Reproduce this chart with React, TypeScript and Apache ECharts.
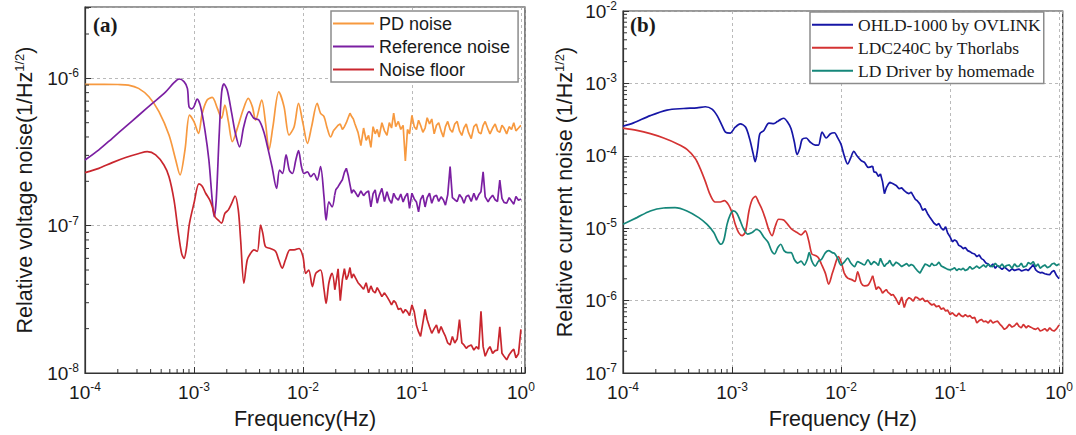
import React, { useEffect, useRef } from 'react';
import * as echarts from 'echarts';

type Pt = [number, number];

// Shared frequency ladder (Hz) used for the dense, noisy high-frequency parts
const noiseFreqs = [
  0.020, 0.021, 0.022, 0.023, 0.024, 0.025, 0.026, 0.027, 0.028, 0.029,
  0.030, 0.032, 0.034, 0.036, 0.038, 0.040, 0.042, 0.044, 0.046, 0.048,
  0.050, 0.053, 0.056, 0.059, 0.062, 0.065, 0.068, 0.071, 0.075, 0.079,
  0.083, 0.087, 0.091, 0.095, 0.10, 0.105, 0.11, 0.115, 0.12, 0.126,
  0.132, 0.138, 0.145, 0.152, 0.16, 0.168, 0.176, 0.185, 0.194, 0.203,
  0.213, 0.224, 0.235, 0.247, 0.26, 0.273, 0.287, 0.3, 0.315, 0.33,
  0.35, 0.37, 0.39, 0.41, 0.43, 0.45, 0.47, 0.5, 0.52, 0.55,
  0.58, 0.61, 0.64, 0.67, 0.7, 0.74, 0.78, 0.82, 0.86, 0.9, 0.95, 1.0,
];

// ---------- Panel (a) ----------
const pdNoiseLow: Pt[] = [
  [1e-4, 9.1e-7], [1.5e-4, 9.1e-7], [2e-4, 9.08e-7], [2.5e-4, 9.0e-7], [3.1e-4, 8.55e-7],
  [3.86e-4, 7.5e-7], [4.77e-4, 5.94e-7], [5.9e-4, 4.12e-7], [6.8e-4, 2.79e-7], [7.45e-4, 2.21e-7],
  [8.27e-4, 3.27e-7], [9.1e-4, 5.64e-7], [1.0e-3, 5.08e-7], [1.1e-3, 4.23e-7], [1.19e-3, 5.78e-7],
  [1.32e-3, 7.13e-7], [1.47e-3, 7.43e-7], [1.64e-3, 6.25e-7], [1.79e-3, 5.36e-7], [1.92e-3, 6.59e-7],
  [2.07e-3, 5.08e-7], [2.25e-3, 3.72e-7], [2.5e-3, 4.58e-7], [2.82e-3, 6.1e-7], [3.15e-3, 7.31e-7],
  [3.43e-3, 6.43e-7], [3.68e-3, 5.21e-7], [4.18e-3, 7.13e-7], [4.54e-3, 4.95e-7], [4.88e-3, 3.27e-7],
  [5.3e-3, 4.7e-7], [6.0e-3, 8.1e-7], [6.7e-3, 6.43e-7], [7.45e-3, 4.12e-7], [8.3e-3, 4.7e-7],
  [9.1e-3, 6.76e-7], [1.0e-2, 4.95e-7], [1.1e-2, 3.62e-7], [1.2e-2, 4.7e-7], [1.35e-2, 6.76e-7],
  [1.45e-2, 5.79e-7], [1.56e-2, 5.5e-7], [1.67e-2, 4.58e-7], [1.79e-2, 4.0e-7], [1.9e-2, 4.4e-7],
];
const pdNoiseHigh = [
  4.6e-7, 4.8e-7, 4.9e-7, 4.5e-7, 4.7e-7, 5.0e-7, 5.4e-7, 5.8e-7, 5.5e-7, 5.3e-7,
  4.9e-7, 4.3e-7, 3.5e-7, 4.6e-7, 3.8e-7, 4.1e-7, 3.4e-7, 4.7e-7, 4.2e-7, 4.5e-7,
  4.0e-7, 5.0e-7, 4.4e-7, 4.1e-7, 5.0e-7, 4.6e-7, 5.8e-7, 4.7e-7, 5.1e-7, 4.5e-7,
  4.8e-7, 2.75e-7, 4.5e-7, 4.2e-7, 5.6e-7, 4.7e-7, 4.5e-7, 5.2e-7, 4.8e-7, 4.3e-7,
  4.6e-7, 5.4e-7, 4.9e-7, 5.3e-7, 4.2e-7, 4.8e-7, 5.0e-7, 4.4e-7, 4.0e-7, 4.7e-7,
  5.1e-7, 4.5e-7, 4.3e-7, 4.9e-7, 5.1e-7, 4.4e-7, 4.1e-7, 4.6e-7, 4.9e-7, 4.3e-7,
  3.9e-7, 4.7e-7, 4.9e-7, 4.3e-7, 4.2e-7, 4.8e-7, 5.1e-7, 4.5e-7, 4.2e-7, 4.6e-7,
  4.9e-7, 4.4e-7, 4.3e-7, 4.8e-7, 4.6e-7, 4.2e-7, 4.7e-7, 4.5e-7, 5.0e-7, 4.4e-7, 4.6e-7, 4.8e-7,
];

const refNoiseLow: Pt[] = [
  [1e-4, 2.79e-7], [1.34e-4, 3.27e-7], [1.78e-4, 3.92e-7], [2.36e-4, 4.7e-7], [3.13e-4, 5.64e-7],
  [4.15e-4, 6.76e-7], [5.5e-4, 8.1e-7], [6.56e-4, 9.35e-7], [7.3e-4, 9.9e-7], [8.1e-4, 9.5e-7],
  [8.7e-4, 8.55e-7], [9.0e-4, 6.43e-7], [9.5e-4, 6.2e-7], [1.0e-3, 6.43e-7], [1.07e-3, 7.24e-7],
  [1.15e-3, 6.43e-7], [1.26e-3, 4.46e-7], [1.37e-3, 2.79e-7], [1.47e-3, 1.49e-7], [1.53e-3, 1.15e-7],
  [1.6e-3, 1.49e-7], [1.7e-3, 4.02e-7], [1.79e-3, 7.91e-7], [1.88e-3, 9.16e-7], [2.02e-3, 8.3e-7],
  [2.22e-3, 5.78e-7], [2.4e-3, 4.23e-7], [2.62e-3, 3.43e-7], [2.86e-3, 4.7e-7], [3.2e-3, 5.94e-7],
  [3.55e-3, 5.36e-7], [3.94e-3, 5.21e-7], [4.37e-3, 4.34e-7], [4.8e-3, 3.27e-7], [5.2e-3, 2.51e-7],
  [5.73e-3, 1.79e-7], [6.1e-3, 2.38e-7], [6.5e-3, 2.26e-7], [7.0e-3, 3.02e-7], [7.5e-3, 2.38e-7],
  [8.0e-3, 2.26e-7], [8.6e-3, 2.79e-7], [9.1e-3, 3.23e-7], [9.7e-3, 2.51e-7], [1.02e-2, 2.26e-7],
  [1.1e-2, 2.32e-7], [1.18e-2, 2.15e-7], [1.26e-2, 2.26e-7], [1.35e-2, 2.04e-7], [1.45e-2, 2.52e-7],
  [1.56e-2, 1.57e-7], [1.63e-2, 1.09e-7], [1.73e-2, 1.45e-7], [1.85e-2, 1.34e-7], [1.95e-2, 1.6e-7],
];
const refNoiseHigh = [
  1.75e-7, 1.84e-7, 1.95e-7, 2.05e-7, 2.3e-7, 2.45e-7, 2.2e-7, 1.9e-7, 1.66e-7, 1.75e-7,
  1.7e-7, 1.57e-7, 1.72e-7, 1.6e-7, 1.68e-7, 1.72e-7, 1.34e-7, 1.65e-7, 1.75e-7, 1.42e-7,
  1.6e-7, 1.79e-7, 1.46e-7, 1.7e-7, 1.5e-7, 1.42e-7, 1.66e-7, 1.55e-7, 1.49e-7, 1.64e-7,
  1.45e-7, 1.58e-7, 1.66e-7, 1.31e-7, 1.66e-7, 1.52e-7, 1.45e-7, 1.24e-7, 1.5e-7, 1.61e-7,
  1.34e-7, 1.55e-7, 1.66e-7, 1.42e-7, 1.58e-7, 1.61e-7, 1.46e-7, 1.57e-7, 1.5e-7, 1.38e-7,
  1.62e-7, 2.52e-7, 1.55e-7, 1.5e-7, 1.46e-7, 1.63e-7, 1.55e-7, 1.42e-7, 1.58e-7, 1.61e-7,
  1.46e-7, 1.66e-7, 1.49e-7, 1.62e-7, 1.7e-7, 2.32e-7, 1.57e-7, 1.45e-7, 1.53e-7, 1.61e-7,
  1.5e-7, 1.46e-7, 2.04e-7, 1.53e-7, 1.44e-7, 1.42e-7, 1.55e-7, 1.47e-7, 1.4e-7, 1.58e-7, 1.49e-7, 1.52e-7,
];

const floorLow: Pt[] = [
  [1e-4, 2.29e-7], [1.34e-4, 2.45e-7], [1.78e-4, 2.68e-7], [2.36e-4, 2.9e-7], [3.13e-4, 3.09e-7],
  [3.73e-4, 3.18e-7], [4.45e-4, 3.02e-7], [5.3e-4, 2.58e-7], [5.9e-4, 2.15e-7], [6.56e-4, 1.49e-7],
  [7.2e-4, 8.87e-8], [7.7e-4, 6.49e-8], [8.1e-4, 6.0e-8], [8.5e-4, 6.9e-8], [9.1e-4, 1.04e-7],
  [1.0e-3, 1.42e-7], [1.11e-3, 1.92e-7], [1.19e-3, 1.85e-7], [1.28e-3, 1.66e-7], [1.39e-3, 1.5e-7],
  [1.47e-3, 1.35e-7], [1.56e-3, 1.15e-7], [1.67e-3, 1.09e-7], [1.79e-3, 1.04e-7], [1.92e-3, 1.21e-7],
  [2.07e-3, 1.28e-7], [2.22e-3, 1.42e-7], [2.38e-3, 1.59e-7], [2.55e-3, 1.28e-7], [2.68e-3, 8.0e-8],
  [2.87e-3, 4.07e-8], [3.08e-3, 5.85e-8], [3.31e-3, 6.5e-8], [3.55e-3, 6.85e-8], [3.81e-3, 6.7e-8],
  [4.09e-3, 1.01e-7], [4.29e-3, 8.8e-8], [4.53e-3, 7.2e-8], [5.03e-3, 7.0e-8], [5.6e-3, 6.7e-8],
  [6.0e-3, 5.85e-8], [6.45e-3, 5.15e-8], [6.9e-3, 5.85e-8], [7.6e-3, 6.85e-8], [8.3e-3, 6.85e-8],
  [9.2e-3, 7.0e-8], [1.0e-2, 6.17e-8], [1.06e-2, 4.74e-8], [1.13e-2, 5.0e-8], [1.22e-2, 3.86e-8],
  [1.31e-2, 4.74e-8], [1.45e-2, 5.0e-8], [1.56e-2, 3.7e-8], [1.63e-2, 2.97e-8], [1.73e-2, 4.1e-8],
  [1.85e-2, 4.74e-8], [1.96e-2, 3.68e-8],
];
const floorHigh = [
  4.0e-8, 5.1e-8, 3.1e-8, 4.3e-8, 5.1e-8, 4.3e-8, 4.6e-8, 5.2e-8, 4.4e-8, 4.7e-8,
  4.5e-8, 4.1e-8, 3.9e-8, 3.7e-8, 4.1e-8, 3.5e-8, 3.9e-8, 3.6e-8, 3.5e-8, 3.8e-8,
  3.6e-8, 3.3e-8, 3.5e-8, 3.3e-8, 3.1e-8, 2.9e-8, 3.1e-8, 3.0e-8, 2.7e-8, 2.75e-8,
  2.55e-8, 2.7e-8, 2.6e-8, 2.45e-8, 2.9e-8, 2.6e-8, 2.1e-8, 1.9e-8, 1.77e-8, 2.2e-8,
  2.7e-8, 2.3e-8, 2.05e-8, 1.86e-8, 2.0e-8, 2.12e-8, 1.86e-8, 2.07e-8, 1.9e-8, 1.77e-8,
  1.6e-8, 1.55e-8, 1.77e-8, 1.6e-8, 1.7e-8, 2.3e-8, 1.6e-8, 1.55e-8, 1.47e-8, 1.52e-8,
  1.55e-8, 1.43e-8, 1.51e-8, 1.45e-8, 2.62e-8, 1.51e-8, 1.3e-8, 1.45e-8, 1.51e-8, 1.36e-8,
  1.42e-8, 1.43e-8, 2.06e-8, 1.36e-8, 1.3e-8, 1.23e-8, 1.33e-8, 1.4e-8, 1.45e-8, 1.27e-8, 1.35e-8, 1.98e-8,
];

// ---------- Panel (b) ----------
const ohldLow: Pt[] = [
  [1e-4, 2.56e-4], [1.25e-4, 2.85e-4], [1.78e-4, 3.59e-4], [2.53e-4, 4.28e-4], [3.6e-4, 4.5e-4],
  [4.77e-4, 4.6e-4], [5.7e-4, 4.76e-4], [6.55e-4, 4.42e-4], [7.3e-4, 3.59e-4], [8.1e-4, 2.62e-4],
  [8.7e-4, 2.13e-4], [9.6e-4, 2.06e-4], [1.07e-3, 2.48e-4], [1.19e-3, 2.76e-4], [1.33e-3, 2.5e-4],
  [1.45e-3, 1.72e-4], [1.56e-3, 1.08e-4], [1.63e-3, 8.3e-5], [1.72e-3, 1.26e-4], [1.8e-3, 2.02e-4],
  [1.96e-3, 2.24e-4], [2.18e-3, 2.82e-4], [2.42e-3, 2.78e-4], [2.6e-3, 2.97e-4], [2.78e-3, 3.16e-4],
  [2.98e-3, 3.3e-4], [3.24e-3, 2.9e-4], [3.48e-3, 2.36e-4], [3.73e-3, 1.55e-4], [3.95e-3, 1.04e-4],
  [4.18e-3, 1.26e-4], [4.4e-3, 1.69e-4], [4.8e-3, 1.76e-4], [5.2e-3, 1.55e-4], [5.8e-3, 1.4e-4],
  [6.2e-3, 1.4e-4], [6.7e-3, 2.13e-4], [7.3e-3, 1.76e-4], [8.0e-3, 2.02e-4], [8.7e-3, 2.08e-4],
  [9.3e-3, 1.78e-4], [1.0e-2, 1.44e-4], [1.07e-2, 1.0e-4], [1.15e-2, 7.7e-5], [1.22e-2, 9.2e-5],
  [1.31e-2, 1.15e-4], [1.4e-2, 1.0e-4], [1.53e-2, 8.6e-5], [1.64e-2, 8.1e-5], [1.78e-2, 6.9e-5],
  [1.95e-2, 7.2e-5],
];
const ohldHigh = [
  6.0e-5, 5.9e-5, 5.2e-5, 5.6e-5, 4.4e-5, 3.0e-5, 3.6e-5, 4.0e-5, 4.3e-5, 4.2e-5,
  4.1e-5, 3.9e-5, 3.5e-5, 3.6e-5, 3.3e-5, 3.1e-5, 3.0e-5, 3.15e-5, 2.8e-5, 2.5e-5,
  2.4e-5, 2.15e-5, 1.77e-5, 1.86e-5, 1.6e-5, 1.43e-5, 1.3e-5, 1.18e-5, 1.1e-5, 1.16e-5,
  1.0e-5, 9.4e-6, 1.05e-5, 8.6e-6, 7.6e-6, 6.5e-6, 6.9e-6, 6.6e-6, 5.8e-6, 5.6e-6,
  5.2e-6, 5.4e-6, 4.9e-6, 4.75e-6, 4.5e-6, 4.4e-6, 4.05e-6, 4.26e-6, 3.8e-6, 3.65e-6,
  3.3e-6, 3.2e-6, 2.95e-6, 3.2e-6, 2.8e-6, 3.05e-6, 2.85e-6, 2.7e-6, 2.9e-6, 2.75e-6,
  2.56e-6, 2.75e-6, 2.6e-6, 2.68e-6, 2.72e-6, 2.58e-6, 2.62e-6, 2.7e-6, 2.6e-6, 2.85e-6,
  3.15e-6, 2.65e-6, 2.5e-6, 2.42e-6, 2.45e-6, 2.35e-6, 2.3e-6, 2.28e-6, 2.5e-6, 2.6e-6, 2.2e-6, 2.0e-6,
];

const ldcLow: Pt[] = [
  [1e-4, 2.41e-4], [1.34e-4, 2.24e-4], [1.78e-4, 2.02e-4], [2.36e-4, 1.76e-4], [3.13e-4, 1.47e-4],
  [3.86e-4, 1.23e-4], [4.6e-4, 9.2e-5], [5.1e-4, 6.7e-5], [5.7e-4, 4.4e-5], [6.3e-4, 2.9e-5],
  [7.0e-4, 2.3e-5], [7.8e-4, 2.3e-5], [8.5e-4, 2.4e-5], [9.3e-4, 2.1e-5], [1.0e-3, 1.64e-5],
  [1.07e-3, 1.13e-5], [1.15e-3, 8.7e-6], [1.24e-3, 7.9e-6], [1.33e-3, 9.0e-6], [1.43e-3, 1.73e-5],
  [1.53e-3, 2.47e-5], [1.64e-3, 2.76e-5], [1.76e-3, 2.25e-5], [1.89e-3, 1.8e-5], [2.03e-3, 1.33e-5],
  [2.17e-3, 9.6e-6], [2.33e-3, 7.9e-6], [2.5e-3, 1.08e-5], [2.68e-3, 1.33e-5], [2.98e-3, 1.3e-5],
  [3.24e-3, 1.13e-5], [3.55e-3, 9.6e-6], [3.95e-3, 8.7e-6], [4.3e-3, 8.1e-6], [4.7e-3, 9.2e-6],
  [5.05e-3, 6.7e-6], [5.4e-3, 4.4e-6], [5.8e-3, 4.2e-6], [6.2e-3, 3.9e-6], [6.6e-3, 3.2e-6],
  [7.2e-3, 2.36e-6], [7.7e-3, 1.69e-6], [8.3e-3, 2.36e-6], [8.7e-3, 2.94e-6], [9.45e-3, 4.05e-6],
  [1.01e-2, 3.3e-6], [1.07e-2, 2.4e-6], [1.15e-2, 2.04e-6], [1.25e-2, 1.95e-6], [1.34e-2, 1.84e-6],
  [1.42e-2, 2.5e-6], [1.53e-2, 1.75e-6], [1.64e-2, 1.6e-6], [1.78e-2, 1.65e-6], [1.95e-2, 2.2e-6],
];
const ldcHigh = [
  1.9e-6, 1.42e-6, 1.55e-6, 1.45e-6, 1.27e-6, 1.35e-6, 1.42e-6, 1.3e-6, 1.25e-6, 1.18e-6,
  1.22e-6, 1.05e-6, 0.88e-6, 1.12e-6, 0.8e-6, 1.02e-6, 1.1e-6, 1.05e-6, 0.98e-6, 1.12e-6,
  1.1e-6, 1.02e-6, 1.08e-6, 0.97e-6, 1.0e-6, 0.92e-6, 0.87e-6, 0.9e-6, 0.82e-6, 0.85e-6,
  0.76e-6, 0.79e-6, 0.72e-6, 0.74e-6, 0.64e-6, 0.68e-6, 0.63e-6, 0.61e-6, 0.67e-6, 0.62e-6,
  0.6e-6, 0.64e-6, 0.6e-6, 0.62e-6, 0.57e-6, 0.59e-6, 0.49e-6, 0.53e-6, 0.55e-6, 0.51e-6,
  0.52e-6, 0.49e-6, 0.54e-6, 0.49e-6, 0.51e-6, 0.52e-6, 0.47e-6, 0.44e-6, 0.4e-6, 0.42e-6,
  0.47e-6, 0.43e-6, 0.45e-6, 0.49e-6, 0.44e-6, 0.42e-6, 0.47e-6, 0.42e-6, 0.45e-6, 0.43e-6,
  0.41e-6, 0.4e-6, 0.42e-6, 0.38e-6, 0.39e-6, 0.41e-6, 0.38e-6, 0.42e-6, 0.39e-6, 0.38e-6, 0.41e-6, 0.46e-6,
];

const ldDriverLow: Pt[] = [
  [1e-4, 1.13e-5], [1.34e-4, 1.4e-5], [1.78e-4, 1.73e-5], [2.36e-4, 1.9e-5], [3.0e-4, 1.92e-5],
  [3.86e-4, 1.73e-5], [4.95e-4, 1.4e-5], [5.9e-4, 1.13e-5], [6.8e-4, 8.7e-6], [7.4e-4, 6.7e-6],
  [7.9e-4, 6.0e-6], [8.4e-4, 6.8e-6], [9.0e-4, 1.13e-5], [9.6e-4, 1.52e-5], [1.03e-3, 1.73e-5],
  [1.11e-3, 1.6e-5], [1.19e-3, 1.26e-5], [1.28e-3, 9.7e-6], [1.39e-3, 8.3e-6], [1.53e-3, 8.7e-6],
  [1.67e-3, 9.6e-6], [1.8e-3, 9.1e-6], [1.96e-3, 7.5e-6], [2.14e-3, 6.4e-6], [2.3e-3, 4.9e-6],
  [2.45e-3, 4.4e-6], [2.63e-3, 5.4e-6], [2.8e-3, 6.0e-6], [3.0e-3, 4.9e-6], [3.24e-3, 4.6e-6],
  [3.48e-3, 4.6e-6], [3.73e-3, 3.7e-6], [4.0e-3, 3.3e-6], [4.3e-3, 3.5e-6], [4.6e-3, 3.1e-6],
  [4.9e-3, 3.7e-6], [5.1e-3, 4.6e-6], [5.4e-3, 3.5e-6], [5.8e-3, 3.0e-6], [6.2e-3, 3.5e-6],
  [6.6e-3, 3.7e-6], [7.2e-3, 4.6e-6], [7.7e-3, 4.9e-6], [8.3e-3, 4.6e-6], [8.7e-3, 4.5e-6],
  [9.3e-3, 3.85e-6], [1.0e-2, 3.1e-6], [1.07e-2, 3.4e-6], [1.15e-2, 3.85e-6], [1.23e-2, 3.3e-6],
  [1.33e-2, 2.95e-6], [1.42e-2, 3.46e-6], [1.53e-2, 3.28e-6], [1.64e-2, 3.11e-6], [1.76e-2, 3.65e-6],
  [1.88e-2, 3.11e-6],
];
const ldDriverHigh = [
  3.46e-6, 3.3e-6, 3.05e-6, 3.84e-6, 3.3e-6, 2.95e-6, 3.2e-6, 3.3e-6, 3.6e-6, 3.2e-6,
  3.0e-6, 3.4e-6, 3.2e-6, 2.95e-6, 3.1e-6, 3.25e-6, 3.0e-6, 3.15e-6, 3.05e-6, 2.8e-6,
  2.6e-6, 2.4e-6, 2.8e-6, 3.2e-6, 3.1e-6, 2.95e-6, 3.28e-6, 3.05e-6, 3.1e-6, 3.4e-6,
  3.0e-6, 2.9e-6, 2.8e-6, 2.7e-6, 2.66e-6, 2.72e-6, 2.85e-6, 2.6e-6, 2.75e-6, 2.66e-6,
  2.8e-6, 2.6e-6, 2.7e-6, 2.95e-6, 2.72e-6, 2.85e-6, 3.0e-6, 2.8e-6, 2.95e-6, 3.11e-6,
  2.89e-6, 3.2e-6, 3.0e-6, 2.95e-6, 3.28e-6, 3.0e-6, 2.95e-6, 3.21e-6, 2.89e-6, 3.05e-6,
  3.11e-6, 2.8e-6, 3.21e-6, 2.95e-6, 3.0e-6, 3.28e-6, 2.9e-6, 3.0e-6, 3.35e-6, 3.2e-6,
  3.46e-6, 2.95e-6, 3.21e-6, 2.8e-6, 2.95e-6, 3.11e-6, 2.85e-6, 2.95e-6, 3.2e-6, 3.28e-6, 3.05e-6, 3.21e-6,
];

// Axis ranges and tick structure
const xDecades = [-4, -3, -2, -1];
const leftYDecades = [-8, -7, -6];
const rightYDecades = [-7, -6, -5, -4, -3];
const minorMultipliers = [2, 3, 4, 5, 6, 7, 8, 9];
const xMin = 1e-4;
const leftXMax = 1.09;
const rightXMax = 1.08;
const leftYMin = 1e-8;
const leftYMax = 3.05e-6;
const rightYMin = 1e-7;
const rightYMax = 1e-2;

const legendA = ['PD noise', 'Reference noise', 'Noise floor'];
const legendB = ['OHLD-1000 by OVLINK', 'LDC240C by Thorlabs', 'LD Driver by homemade'];
const colorsA = ['#F7993F', '#7B1FA2', '#C9262E'];
const colorsB = ['#1616A6', '#D43333', '#15877A'];

const SANS = 'Liberation Sans';
const SERIF = 'Liberation Serif';
const INK = '#1a1a1a';

function zipHigh(vals: number[]): Pt[] {
  return vals.map((v, i) => [noiseFreqs[i], v] as Pt);
}

function minorValues(decades: number[], maxV: number): number[] {
  const out: number[] = [];
  decades.forEach((d) => minorMultipliers.forEach((m) => {
    const v = m * Math.pow(10, d);
    if (v < maxV) out.push(v);
  }));
  return out;
}

function supLabel(v: number): string {
  const e = Math.log10(v);
  const r = Math.round(e);
  if (Math.abs(e - r) > 1e-6) return '';
  return '10{sup|' + r + '}';
}

const tickLabel = {
  formatter: supLabel,
  fontFamily: SANS,
  fontSize: 19,
  color: INK,
  lineHeight: 22,
  rich: {
    sup: { fontFamily: SANS, fontSize: 12, lineHeight: 12, verticalAlign: 'top', color: INK },
  },
};

function makeX(gridIndex: number, max: number, name: string) {
  return {
    type: 'log', logBase: 10, gridIndex, min: xMin, max,
    name, nameLocation: 'middle', nameGap: 29,
    nameTextStyle: { fontFamily: SANS, fontSize: 21.5, color: INK },
    axisLine: { show: true, onZero: false, lineStyle: { color: '#333', width: 1.2 } },
    axisTick: { show: true, inside: true, length: 6, lineStyle: { color: '#333', width: 1 } },
    axisLabel: { ...tickLabel, margin: 8 },
    splitLine: { show: true, lineStyle: { color: '#a8a8a8', width: 0.8, type: [3, 3] } },
  };
}

function makeY(gridIndex: number, min: number, max: number, name: string, gap: number) {
  return {
    type: 'log', logBase: 10, gridIndex, min, max,
    name, nameLocation: 'middle', nameGap: gap,
    nameTextStyle: {
      fontFamily: SANS, fontSize: 21.5, color: INK, lineHeight: 24,
      rich: { sup: { fontFamily: SANS, fontSize: 13, lineHeight: 13, verticalAlign: 'top', color: INK } },
    },
    axisLine: { show: true, onZero: false, lineStyle: { color: '#333', width: 1.2 } },
    axisTick: { show: true, inside: true, length: 6, lineStyle: { color: '#333', width: 1 } },
    axisLabel: { ...tickLabel, margin: 6 },
    splitLine: { show: true, lineStyle: { color: '#a8a8a8', width: 0.8, type: [3, 3] } },
  };
}

function lineSeries(name: string, color: string, data: Pt[], gi: number, smooth: number | boolean) {
  return {
    type: 'line', name, xAxisIndex: gi, yAxisIndex: gi, data,
    showSymbol: false, symbol: 'none', smooth, silent: true,
    lineStyle: { color, width: 1.7 }, itemStyle: { color },
  };
}

function curve(name: string, color: string, low: Pt[], high: number[], gi: number) {
  const highPts: Pt[] = [low[low.length - 1], ...zipHigh(high)];
  return [lineSeries(name, color, low, gi, 0.3), lineSeries(name, color, highPts, gi, false)];
}

function minorTickSeries(gi: number, data: Pt[], dir: 'x' | 'y') {
  return {
    type: 'custom', xAxisIndex: gi, yAxisIndex: gi, silent: true, z: 6,
    data,
    renderItem: (_p: any, api: any) => {
      const p = api.coord([api.value(0), api.value(1)]);
      const len = 4;
      return {
        type: 'line',
        shape: dir === 'x'
          ? { x1: p[0], y1: p[1], x2: p[0], y2: p[1] - len }
          : { x1: p[0], y1: p[1], x2: p[0] + len, y2: p[1] },
        style: { stroke: '#333', lineWidth: 1 },
      };
    },
  };
}

function legendBox(data: string[], left: number, top: number, font: string, size: number, padding: number[]) {
  return {
    data: data.map((name) => ({ name, icon: 'rect' })),
    orient: 'vertical', left, top, align: 'left',
    itemWidth: 41, itemHeight: 2, itemGap: 3, padding,
    backgroundColor: '#fff', borderColor: '#8c8c8c', borderWidth: 1.5,
    selectedMode: false,
    textStyle: { fontFamily: font, fontSize: size, color: INK, lineHeight: 20 },
  };
}

export default function App() {
  const ref = useRef<HTMLDivElement>(null);

  useEffect(() => {
    if (!ref.current) return;
    const chart = echarts.init(ref.current, undefined, { renderer: 'svg' });

    const xMinorA = minorValues(xDecades, leftXMax).map((v) => [v, leftYMin] as Pt);
    const xMinorB = minorValues(xDecades, rightXMax).map((v) => [v, rightYMin] as Pt);
    const yMinorA = minorValues(leftYDecades, leftYMax).map((v) => [xMin, v] as Pt);
    const yMinorB = minorValues(rightYDecades, rightYMax).map((v) => [xMin, v] as Pt);

    const option: any = {
      animation: false,
      backgroundColor: '#fff',
      grid: [
        { left: 85, top: 7, width: 440, height: 366, show: true, borderColor: '#333', borderWidth: 1.2, backgroundColor: 'transparent' },
        { left: 623, top: 7, width: 440, height: 366, show: true, borderColor: '#333', borderWidth: 1.2, backgroundColor: 'transparent' },
      ],
      xAxis: [
        makeX(0, leftXMax, 'Frequency(Hz)'),
        makeX(1, rightXMax, 'Frequency (Hz)'),
      ],
      yAxis: [
        makeY(0, leftYMin, leftYMax, 'Relative voltage noise(1/Hz{sup|1/2})', 48),
        makeY(1, rightYMin, rightYMax, 'Relative current noise (1/Hz{sup|1/2})', 46),
      ],
      legend: [
        legendBox(legendA, 331, 11, SANS, 18, [2.5, 8, 2.5, 2]),
        legendBox(legendB, 810, 12, SERIF, 17.5, [2.7, 3, 2.7, 2]),
      ],
      graphic: [
        { type: 'text', left: 93, top: 14, style: { text: '(a)', font: 'bold 21px "Liberation Serif"', fill: INK } },
        { type: 'text', left: 630, top: 14, style: { text: '(b)', font: 'bold 21px "Liberation Serif"', fill: INK } },
      ],
      series: [
        ...curve(legendA[0], colorsA[0], pdNoiseLow, pdNoiseHigh, 0),
        ...curve(legendA[1], colorsA[1], refNoiseLow, refNoiseHigh, 0),
        ...curve(legendA[2], colorsA[2], floorLow, floorHigh, 0),
        ...curve(legendB[0], colorsB[0], ohldLow, ohldHigh, 1),
        ...curve(legendB[1], colorsB[1], ldcLow, ldcHigh, 1),
        ...curve(legendB[2], colorsB[2], ldDriverLow, ldDriverHigh, 1),
        minorTickSeries(0, xMinorA, 'x'),
        minorTickSeries(1, xMinorB, 'x'),
        minorTickSeries(0, yMinorA, 'y'),
        minorTickSeries(1, yMinorB, 'y'),
      ],
    };

    chart.setOption(option);
    return () => chart.dispose();
  }, []);

  return (
    <div
      ref={ref}
      style={{ position: 'fixed', left: 0, top: 0, width: 1076, height: 435, background: '#fff' }}
    />
  );
}
